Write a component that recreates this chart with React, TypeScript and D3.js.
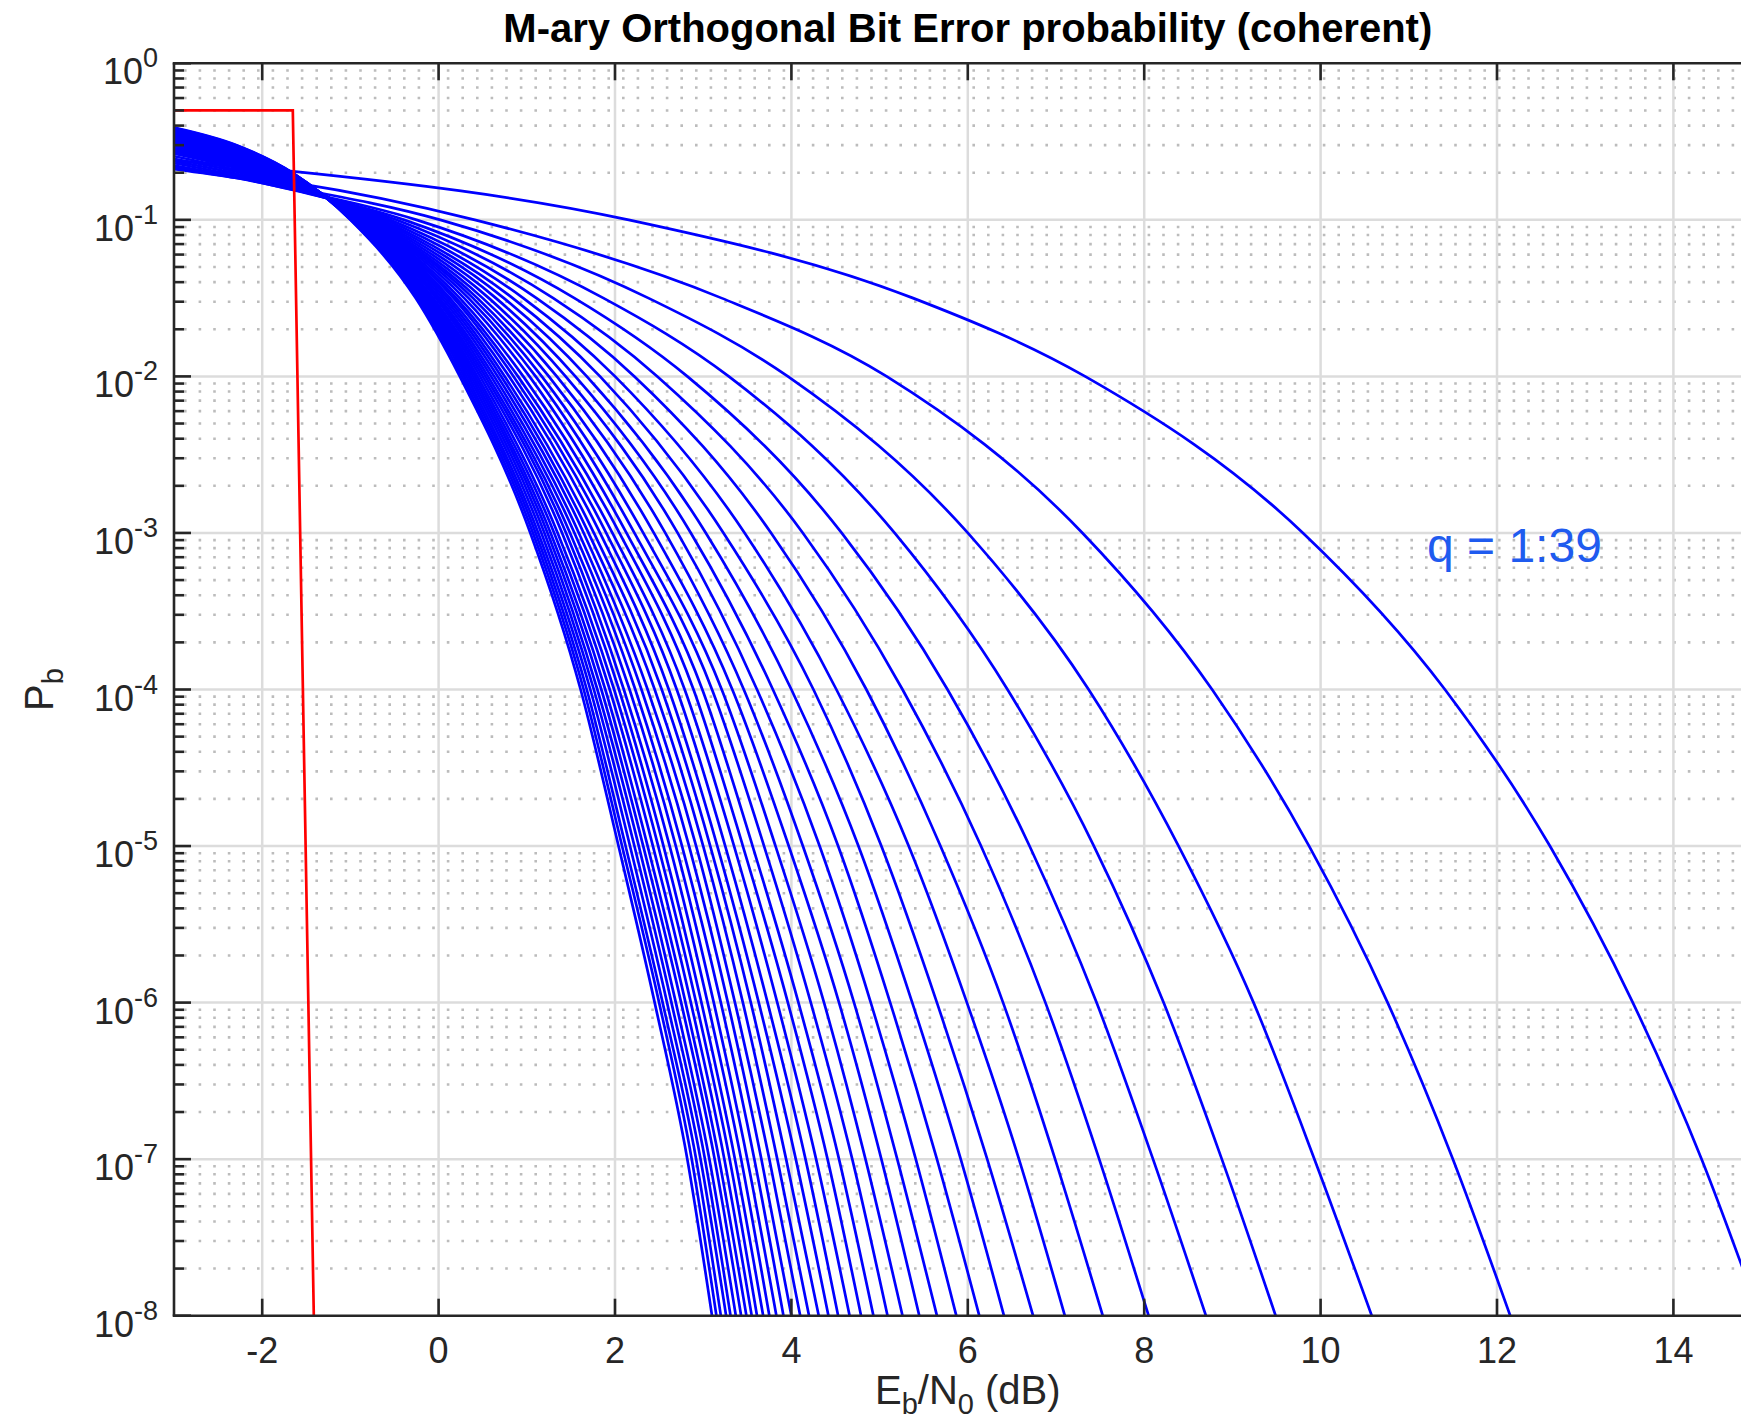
import React from 'react';
import * as d3 from 'd3';

// ---------- data ----------
const qList = [1, 2, 3, 4, 5, 6, 7, 8, 9, 10, 11, 12, 13, 14, 15, 16, 17, 18, 19, 20, 21, 22, 23, 24, 25, 26, 27, 28, 29, 30, 31, 32, 33, 34, 35, 36, 37, 38, 39];

const xTicks = [-2, 0, 2, 4, 6, 8, 10, 12, 14];
const yTickExps = [0, -1, -2, -3, -4, -5, -6, -7, -8];

// Pb at the first three sample abscissas (dB)
const topX = [-3, -2.29, -1.65];
const pbAtXm3 = [0.240, 0.215, 0.211, 0.215, 0.222, 0.230, 0.237, 0.245, 0.255, 0.265, 0.272, 0.279, 0.286, 0.292, 0.298, 0.304, 0.310, 0.315, 0.320, 0.325, 0.330, 0.334, 0.338, 0.342, 0.346, 0.350, 0.353, 0.357, 0.360, 0.363, 0.366, 0.369, 0.372, 0.375, 0.378, 0.381, 0.384, 0.386, 0.389];
const pbAtXm229 = [0.221, 0.194, 0.185, 0.185, 0.187, 0.192, 0.197, 0.203, 0.208, 0.214, 0.219, 0.224, 0.229, 0.235, 0.240, 0.243, 0.246, 0.249, 0.252, 0.255, 0.258, 0.261, 0.264, 0.266, 0.269, 0.271, 0.273, 0.275, 0.278, 0.280, 0.282, 0.284, 0.286, 0.289, 0.291, 0.293, 0.295, 0.298, 0.300];
const pbAtXm165 = [0.204, 0.173, 0.160, 0.156, 0.155, 0.157, 0.159, 0.162, 0.164, 0.166, 0.168, 0.170, 0.172, 0.174, 0.176, 0.178, 0.179, 0.181, 0.182, 0.184, 0.185, 0.186, 0.186, 0.187, 0.188, 0.189, 0.190, 0.191, 0.191, 0.192, 0.193, 0.194, 0.195, 0.195, 0.196, 0.197, 0.198, 0.198, 0.199];

// Eb/N0 (dB) at which each curve q reaches Pb = 10^level
const levelExps = [-1, -1.5, -2, -3, -4, -5, -6, -7, -8];
const xAtLm1 = [2.155, 0.41, 0.02, -0.25, -0.39, -0.48, -0.55, -0.60, -0.64, -0.67, -0.70, -0.725, -0.75, -0.77, -0.79, -0.805, -0.82, -0.835, -0.85, -0.86, -0.87, -0.88, -0.89, -0.90, -0.91, -0.918, -0.926, -0.934, -0.942, -0.95, -0.956, -0.962, -0.968, -0.974, -0.98, -0.985, -0.99, -0.995, -1.0];
const xAtLm15 = [5.38, 3.21, 2.38, 1.87, 1.54, 1.30, 1.11, 0.96, 0.84, 0.74, 0.65, 0.57, 0.50, 0.44, 0.39, 0.34, 0.29, 0.24, 0.20, 0.17, 0.13, 0.10, 0.07, 0.04, 0.01, -0.01, -0.03, -0.06, -0.08, -0.10, -0.12, -0.14, -0.15, -0.17, -0.19, -0.20, -0.22, -0.24, -0.26];
const xAtLm2 = [7.33, 5.08, 3.96, 3.29, 2.82, 2.48, 2.22, 2.00, 1.83, 1.68, 1.55, 1.44, 1.34, 1.25, 1.17, 1.10, 1.03, 0.96, 0.90, 0.85, 0.80, 0.75, 0.71, 0.67, 0.63, 0.595, 0.56, 0.53, 0.50, 0.47, 0.44, 0.415, 0.39, 0.365, 0.34, 0.315, 0.29, 0.265, 0.24];
const xAtLm3 = [9.80, 7.30, 6.00, 5.17, 4.57, 4.13, 3.77, 3.47, 3.23, 3.03, 2.86, 2.71, 2.57, 2.44, 2.32, 2.22, 2.13, 2.05, 1.97, 1.90, 1.83, 1.76, 1.70, 1.645, 1.59, 1.54, 1.49, 1.445, 1.40, 1.35, 1.31, 1.27, 1.235, 1.20, 1.165, 1.13, 1.10, 1.07, 1.04];
const xAtLm4 = [11.41, 8.77, 7.37, 6.45, 5.77, 5.26, 4.85, 4.51, 4.25, 4.00, 3.79, 3.61, 3.46, 3.33, 3.21, 3.10, 2.99, 2.89, 2.79, 2.70, 2.61, 2.53, 2.45, 2.37, 2.30, 2.23, 2.165, 2.10, 2.045, 1.99, 1.94, 1.89, 1.845, 1.80, 1.76, 1.72, 1.68, 1.645, 1.61];
const xAtLm5 = [12.60, 9.87, 8.39, 7.43, 6.70, 6.15, 5.69, 5.33, 5.02, 4.76, 4.53, 4.32, 4.13, 3.97, 3.82, 3.69, 3.56, 3.45, 3.35, 3.25, 3.16, 3.08, 3.00, 2.92, 2.84, 2.76, 2.69, 2.62, 2.55, 2.49, 2.43, 2.37, 2.32, 2.27, 2.22, 2.17, 2.12, 2.08, 2.04];
const xAtLm6 = [13.54, 10.76, 9.24, 8.22, 7.46, 6.88, 6.40, 5.99, 5.65, 5.37, 5.12, 4.90, 4.71, 4.54, 4.37, 4.22, 4.08, 3.96, 3.84, 3.73, 3.63, 3.54, 3.45, 3.36, 3.28, 3.20, 3.12, 3.05, 2.98, 2.92, 2.86, 2.80, 2.75, 2.69, 2.64, 2.59, 2.54, 2.50, 2.45];
const xAtLm7 = [14.32, 11.50, 9.93, 8.88, 8.10, 7.49, 6.99, 6.58, 6.22, 5.92, 5.65, 5.41, 5.20, 5.02, 4.84, 4.69, 4.54, 4.41, 4.28, 4.16, 4.05, 3.94, 3.84, 3.75, 3.66, 3.58, 3.50, 3.43, 3.36, 3.30, 3.24, 3.18, 3.13, 3.07, 3.02, 2.97, 2.92, 2.87, 2.82];
const xAtLm8 = [14.98, 12.15, 10.58, 9.49, 8.70, 8.05, 7.53, 7.10, 6.74, 6.41, 6.13, 5.87, 5.65, 5.45, 5.26, 5.09, 4.93, 4.79, 4.66, 4.53, 4.42, 4.31, 4.20, 4.10, 4.00, 3.91, 3.83, 3.75, 3.68, 3.61, 3.55, 3.49, 3.43, 3.37, 3.31, 3.26, 3.20, 3.15, 3.10];

// Shannon-limit step (red)
const shannonX = [-3, -1.653, -1.415];
const shannonPb = [0.5, 0.5, 1e-8];

// ---------- layout ----------
const W = 1741;
const H = 1425;
const L = 174;
const R = 1761.6;
const T = 63.3;
const B = 1315.7;
const FONT = '"Liberation Sans", Arial, Helvetica, sans-serif';
const AX = '#262626';
const TICK_FS = 36;
const EXP_FS = 27;
const LABEL_FS = 40;
const SUB_FS = 29;

export default function App() {
  const x = d3.scaleLinear().domain([-3, 15]).range([L, R]);
  const y = d3.scaleLog().domain([1e-8, 1]).range([B, T]);

  const levelLists = [xAtLm1, xAtLm15, xAtLm2, xAtLm3, xAtLm4, xAtLm5, xAtLm6, xAtLm7, xAtLm8];
  const curves = qList.map((_, i) => {
    const pts: [number, number][] = [
      [topX[0], pbAtXm3[i]],
      [topX[1], pbAtXm229[i]],
      [topX[2], pbAtXm165[i]],
    ];
    levelExps.forEach((e, j) => pts.push([levelLists[j][i], Math.pow(10, e)]));
    return pts;
  });

  const line = d3
    .line<[number, number]>()
    .x((d) => x(d[0]))
    .y((d) => y(d[1]))
    .curve(d3.curveMonotoneX);
  const redLine = d3
    .line<[number, number]>()
    .x((d) => x(d[0]))
    .y((d) => y(d[1]));
  const redPts: [number, number][] = shannonX.map((v, i) => [v, shannonPb[i]]);

  const allLogTicks = y.ticks();
  const minorTicks = allLogTicks.filter((v) => {
    const m = Math.round(v / Math.pow(10, Math.floor(Math.log10(v) + 1e-9)));
    return m !== 1;
  });

  return (
    <svg
      width={W}
      height={H}
      style={{ position: 'absolute', left: 0, top: 0, background: '#fff' }}
      fontFamily={FONT}
    >
      <defs>
        <clipPath id="plotClip">
          <rect x={L} y={T} width={R - L} height={B - T} />
        </clipPath>
      </defs>
      <rect x={0} y={0} width={W} height={H} fill="#fff" />

      {/* minor horizontal dotted grid */}
      {minorTicks.map((v, i) => (
        <line
          key={'mg' + i}
          x1={L + 10}
          x2={R}
          y1={y(v)}
          y2={y(v)}
          stroke="#bcbcbc"
          strokeWidth={2.6}
          strokeDasharray="2.6 12"
        />
      ))}
      {/* major grid */}
      {xTicks.map((t) => (
        <line key={'gx' + t} x1={x(t)} x2={x(t)} y1={T} y2={B} stroke="#dcdcdc" strokeWidth={2.5} />
      ))}
      {yTickExps.slice(1, -1).map((e) => (
        <line key={'gy' + e} x1={L} x2={R} y1={y(Math.pow(10, e))} y2={y(Math.pow(10, e))} stroke="#dcdcdc" strokeWidth={2.5} />
      ))}

      {/* curves */}
      <g clipPath="url(#plotClip)">
        {curves.map((pts, i) => (
          <path key={'c' + qList[i]} d={line(pts) || ''} fill="none" stroke="#0000ff" strokeWidth={2.7} strokeLinejoin="round" />
        ))}
        <path d={redLine(redPts) || ''} fill="none" stroke="#ff0000" strokeWidth={2.7} />
      </g>

      {/* axes */}
      <line x1={L} x2={L} y1={T} y2={B} stroke={AX} strokeWidth={2.6} />
      <line x1={L - 1.3} x2={W} y1={B} y2={B} stroke={AX} strokeWidth={2.6} />
      <line x1={L - 1.3} x2={W} y1={T} y2={T} stroke={AX} strokeWidth={2.6} />
      {xTicks.map((t) => (
        <g key={'xt' + t}>
          <line x1={x(t)} x2={x(t)} y1={B} y2={B - 17} stroke={AX} strokeWidth={2.6} />
          <line x1={x(t)} x2={x(t)} y1={T} y2={T + 17} stroke={AX} strokeWidth={2.6} />
          <text x={x(t)} y={B + 47} fontSize={TICK_FS} textAnchor="middle" fill="#262626">
            {String(t)}
          </text>
        </g>
      ))}
      {yTickExps.map((e) => (
        <g key={'yt' + e}>
          <line x1={L} x2={L + 17} y1={y(Math.pow(10, e))} y2={y(Math.pow(10, e))} stroke={AX} strokeWidth={2.6} />
          <text x={158} y={y(Math.pow(10, e)) + 21} fontSize={TICK_FS} textAnchor="end" fill="#262626">
            <tspan>10</tspan>
            <tspan dy={-17} fontSize={EXP_FS}>
              {String(e)}
            </tspan>
          </text>
        </g>
      ))}
      {minorTicks.map((v, i) => (
        <line key={'ymt' + i} x1={L} x2={L + 10} y1={y(v)} y2={y(v)} stroke={AX} strokeWidth={2.6} />
      ))}

      {/* labels */}
      <text x={(L + R) / 2} y={42} fontSize={40} fontWeight="bold" textAnchor="middle" fill="#000">
        M-ary Orthogonal Bit Error probability (coherent)
      </text>
      <text x={(L + R) / 2} y={1404} fontSize={LABEL_FS} textAnchor="middle" fill="#262626">
        <tspan>E</tspan>
        <tspan dy={10} fontSize={SUB_FS}>b</tspan>
        <tspan dy={-10}>/N</tspan>
        <tspan dy={10} fontSize={SUB_FS}>0</tspan>
        <tspan dy={-10}> (dB)</tspan>
      </text>
      <text transform={`translate(53, ${(T + B) / 2}) rotate(-90)`} fontSize={LABEL_FS} textAnchor="middle" fill="#262626">
        <tspan>P</tspan>
        <tspan dy={10} fontSize={SUB_FS}>b</tspan>
      </text>
      <text x={1427} y={562} fontSize={48} fill="#1f5bef">
        q = 1:39
      </text>
    </svg>
  );
}
